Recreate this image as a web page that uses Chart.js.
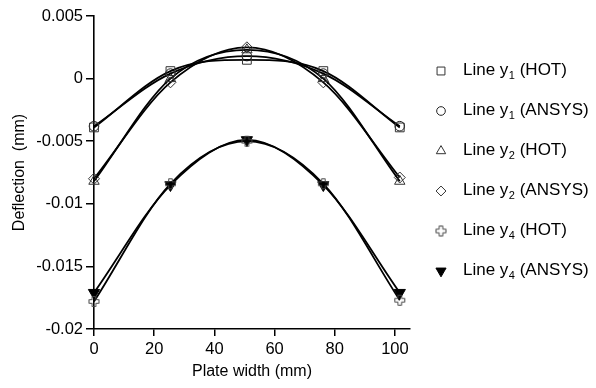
<!DOCTYPE html>
<html><head><meta charset="utf-8">
<script src="https://cdn.jsdelivr.net/npm/chart.js@4"></script>
<style>html,body{margin:0;padding:0;background:#fff}#wrap{width:596px;height:388px}</style>
</head><body><div id="wrap"><canvas id="c" width="596" height="388"></canvas></div>
<script>
const xPositions = [0, 25.4, 50.8, 76.2, 101.6];
const y1HOT   = [-0.0039, 0.0006, 0.0015, 0.0006, -0.0039];
const y1ANSYS = [-0.0038, 0.0004, 0.0018, 0.0004, -0.0038];
const y2HOT   = [-0.0082, 0.0000, 0.0023, 0.0000, -0.0082];
const y2ANSYS = [-0.0080, -0.0003, 0.0025, -0.0003, -0.0079];
const y4HOT   = [-0.0178, -0.0084, -0.0050, -0.0084, -0.0177];
const y4ANSYS = [-0.0171, -0.0085, -0.0049, -0.0085, -0.0171];
const xTicks = [0, 20, 40, 60, 80, 100];
const yTicks = [0.005, 0, -0.005, -0.01, -0.015, -0.02];
const yTickLabels = ['0.005', '0', '-0.005', '-0.01', '-0.015', '-0.02'];
const legendNames = [
  ['Line y', '1', ' (HOT)'],
  ['Line y', '1', ' (ANSYS)'],
  ['Line y', '2', ' (HOT)'],
  ['Line y', '2', ' (ANSYS)'],
  ['Line y', '4', ' (HOT)'],
  ['Line y', '4', ' (ANSYS)']
];
const FONT = "'Liberation Sans', Arial, Helvetica, sans-serif";

function plusCanvas() {
  const s = 13, c = document.createElement('canvas');
  c.width = s; c.height = s;
  const g = c.getContext('2d');
  const m = 6.5, L = 5, w = 1.8;
  g.strokeStyle = '#444'; g.lineWidth = 1;
  g.beginPath();
  const pts = [[m-w,m-L],[m+w,m-L],[m+w,m-w],[m+L,m-w],[m+L,m+w],[m+w,m+w],[m+w,m+L],[m-w,m+L],[m-w,m+w],[m-L,m+w],[m-L,m-w],[m-w,m-w]];
  pts.forEach((p,i)=> i ? g.lineTo(p[0],p[1]) : g.moveTo(p[0],p[1]));
  g.closePath(); g.stroke();
  return c;
}
const plusImg = plusCanvas();

const styles = [
  {pointStyle:'rect', radius:6.2, rotation:0, fill:'rgba(0,0,0,0)', border:'#333'},
  {pointStyle:'circle', radius:4.8, rotation:0, fill:'rgba(0,0,0,0)', border:'#222'},
  {pointStyle:'triangle', radius:6, rotation:0, fill:'rgba(0,0,0,0)', border:'#333'},
  {pointStyle:'rectRot', radius:5.5, rotation:0, fill:'rgba(0,0,0,0)', border:'#333'},
  {pointStyle:plusImg, radius:6, rotation:0, fill:'rgba(0,0,0,0)', border:'#444'},
  {pointStyle:'triangle', radius:6.5, rotation:180, fill:'#000', border:'#000'}
];
const seriesData = [y1HOT, y1ANSYS, y2HOT, y2ANSYS, y4HOT, y4ANSYS];

const datasets = seriesData.map((arr, i) => ({
  label: legendNames[i].join(''),
  data: xPositions.map((x, k) => ({x: x, y: arr[k]})),
  borderColor: '#000',
  borderWidth: 1.8,
  cubicInterpolationMode: 'monotone',
  fill: false,
  clip: false,
  pointStyle: styles[i].pointStyle,
  pointRadius: styles[i].radius,
  pointRotation: styles[i].rotation,
  pointBackgroundColor: styles[i].fill,
  pointBorderColor: styles[i].border,
  pointBorderWidth: 1
}));

const legendPlugin = {
  id: 'customLegend',
  afterDraw(chart) {
    const ctx = chart.ctx;
    const mx = 441, tx = 463, y0 = 70, dy = 40;
    ctx.save();
    styles.forEach((st, i) => {
      const y = y0 + dy * i;
      ctx.fillStyle = st.fill; ctx.strokeStyle = st.border; ctx.lineWidth = 1;
      if (Chart.helpers && Chart.helpers.drawPoint) {
        Chart.helpers.drawPoint(ctx, {pointStyle: st.pointStyle, radius: st.radius * 0.9, rotation: st.rotation, borderWidth: 1}, mx, y + 1);
      }
      const n = legendNames[i];
      ctx.fillStyle = '#000';
      ctx.textBaseline = 'middle'; ctx.textAlign = 'left';
      ctx.font = '17px ' + FONT;
      ctx.fillText(n[0], tx, y);
      let x = tx + ctx.measureText(n[0]).width + 0.5;
      ctx.font = '11px ' + FONT;
      ctx.fillText(n[1], x, y + 6);
      x += ctx.measureText(n[1]).width;
      ctx.font = '17px ' + FONT;
      ctx.fillText(n[2], x, y);
    });
    ctx.restore();
  }
};

new Chart(document.getElementById('c'), {
  type: 'line',
  data: { datasets: datasets },
  plugins: [legendPlugin],
  options: {
    responsive: false,
    animation: false,
    devicePixelRatio: 1,
    layout: { padding: { left: 0, top: 16, right: 186, bottom: 0 } },
    plugins: { legend: { display: false }, tooltip: { enabled: false } },
    scales: {
      x: {
        type: 'linear', min: 0, max: 105,
        afterBuildTicks: s => { s.ticks = xTicks.map(v => ({value: v})); },
        afterFit: s => { s.height = 59; },
        grid: { drawOnChartArea: false, drawTicks: true, tickLength: 7, color: '#000', lineWidth: 1.5 },
        border: { display: true, color: '#000', width: 1.6 },
        ticks: { color: '#000', padding: 4, maxRotation: 0, font: { family: FONT, size: 16.5 } },
        title: { display: true, text: 'Plate width (mm)', color: '#000', font: { family: FONT, size: 16 }, padding: { top: 0, bottom: 7 } }
      },
      y: {
        type: 'linear', min: -0.02, max: 0.005,
        afterBuildTicks: s => { s.ticks = yTicks.map(v => ({value: v})); },
        afterFit: s => { s.width = 94; },
        grid: { drawOnChartArea: false, drawTicks: true, tickLength: 8, color: '#000', lineWidth: 1.5 },
        border: { display: true, color: '#000', width: 1.6 },
        ticks: {
          color: '#000', padding: 3, font: { family: FONT, size: 16.5 },
          callback: (v) => { const k = yTicks.findIndex(t => Math.abs(t - v) < 1e-9); return k >= 0 ? yTickLabels[k] : ''; }
        },
        title: { display: true, text: 'Deflection  (mm)', color: '#000', font: { family: FONT, size: 16 }, padding: { top: 10, bottom: 0 } }
      }
    }
  }
});
</script></body></html>
